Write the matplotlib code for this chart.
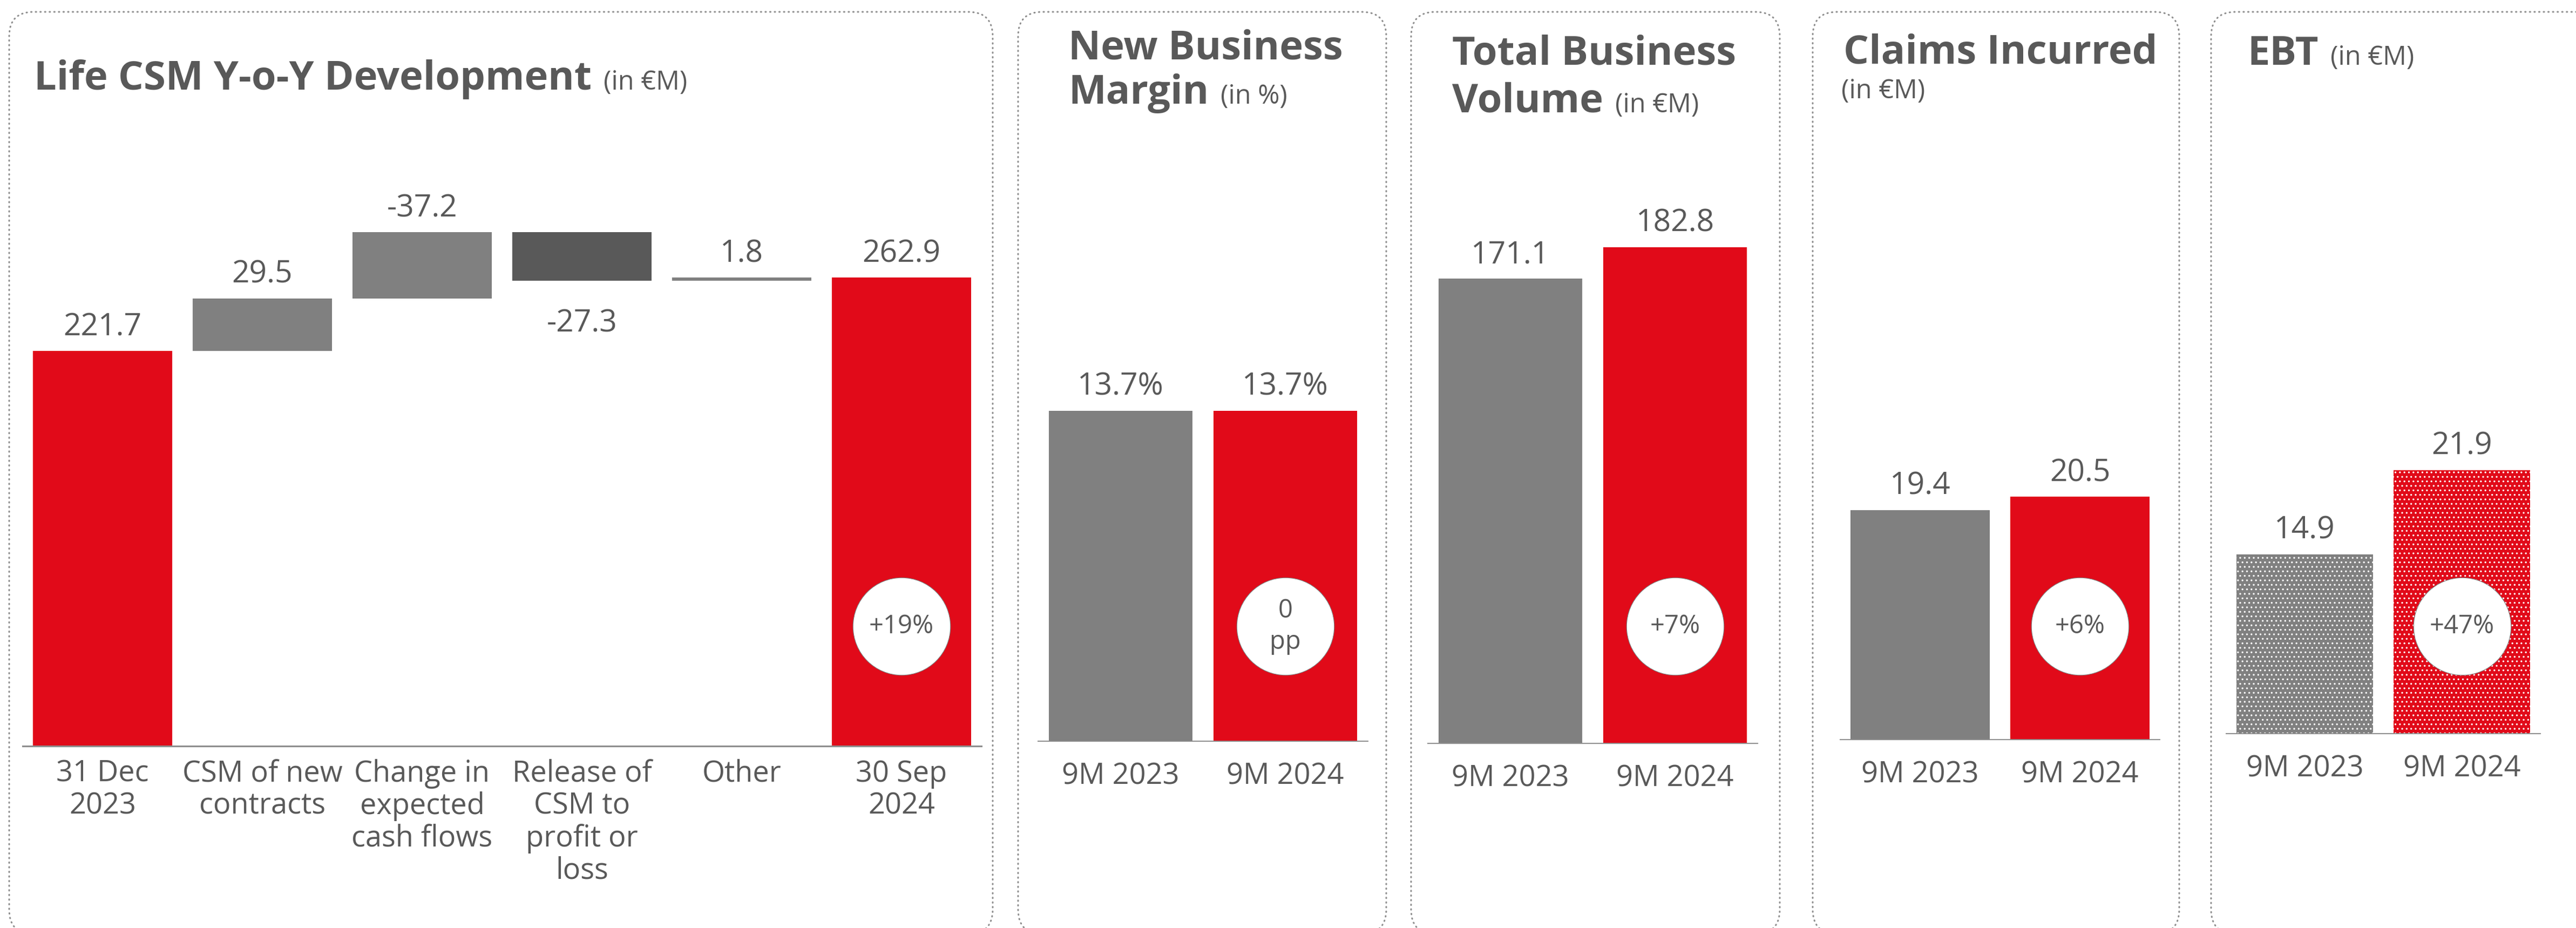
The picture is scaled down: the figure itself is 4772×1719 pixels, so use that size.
import matplotlib
matplotlib.use("Agg")
import matplotlib.pyplot as plt
from matplotlib.patches import FancyBboxPatch
from matplotlib.transforms import IdentityTransform, blended_transform_factory

RED = "#E10A19"
GRAY = "#808080"
DARK = "#595959"
TEXT = "#595959"
AXIS = "#8C8C8C"
BORDER = "#8F8F8F"

plt.rcParams["font.family"] = ["Open Sans", "DejaVu Sans"]

# Life CSM development (EUR M)
csm_start = 221.7
csm_moves = [29.5, 37.2, -27.3, 1.8]
csm_move_labels = ["29.5", "-37.2", "-27.3", "1.8"]
csm_end = 262.9
csm_categories = ["31 Dec\n2023", "CSM of new\ncontracts", "Change in\nexpected\ncash flows",
                  "Release of\nCSM to\nprofit or\nloss", "Other", "30 Sep\n2024"]
csm_move_colors = [GRAY, GRAY, DARK, GRAY]
csm_change = "+19%"

periods = ["9M 2023", "9M 2024"]
nbm = [13.7, 13.7]          # new business margin, %
tbv = [171.1, 182.8]        # total business volume, EUR M
claims = [19.4, 20.5]       # claims incurred, EUR M
ebt = [14.9, 21.9]          # earnings before taxes, EUR M
nbm_change = "0\npp"
tbv_change = "+7%"
claims_change = "+6%"
ebt_change = "+47%"

W, H = 4772, 1719
fig = plt.figure(figsize=(W / 100, H / 100), dpi=100)
fig.patch.set_facecolor("white")
renderer = fig.canvas.get_renderer()


def add_panel_axes(x0, x1, base, px_per_unit, top=300):
    ax = fig.add_axes([x0 / W, (H - base) / H, (x1 - x0) / W, (base - top) / H])
    ax.set_ylim(0, (base - top) / px_per_unit)
    ax.set_yticks([])
    for side in ["left", "right", "top"]:
        ax.spines[side].set_visible(False)
    ax.spines["bottom"].set_color(AXIS)
    ax.spines["bottom"].set_linewidth(1.4)
    ax.patch.set_alpha(0)
    return ax


def value_label(ax, x, y, text, dy=21):
    ax.annotate(text, (x, y), xytext=(0, dy), textcoords="offset points",
                ha="center", va="baseline", fontsize=41, color=TEXT)


def badge(ax, x, text):
    tr = blended_transform_factory(ax.transData, fig.transFigure)
    yf = (H - 1160) / H
    ax.plot([x], [yf], transform=tr, marker="o", ms=130, mfc="white", mec="#7A7A7A",
            mew=0.8, clip_on=False, zorder=5)
    ax.text(x, yf, text, transform=tr, ha="center", va="center", fontsize=34,
            color=TEXT, zorder=6, linespacing=1.28)


def panel_box(x0, x1, y0=22, y1=1730):
    box = FancyBboxPatch((x0, H - y1), x1 - x0, y1 - y0,
                         boxstyle="round,pad=0,rounding_size=45",
                         transform=IdentityTransform(), fill=False,
                         edgecolor=BORDER, linewidth=2.2,
                         linestyle=(0, (0.4, 2.4)), capstyle="round")
    fig.add_artist(box)


def title(x, y, bold, unit=None, unit_xy=None):
    t = fig.text(x / W, 1 - y / H, bold, fontsize=53.3, fontweight="bold",
                 color=TEXT, va="baseline")
    if unit is None:
        return
    if unit_xy is None:
        bb = t.get_window_extent(renderer)
        fig.text((bb.x1 + 22) / W, 1 - y / H, unit, fontsize=35, color=TEXT, va="baseline")
    else:
        fig.text(unit_xy[0] / W, 1 - unit_xy[1] / H, unit, fontsize=35, color=TEXT, va="baseline")


# dotted panel frames
panel_box(17, 1839)
panel_box(1886, 2568)
panel_box(2614, 3297)
panel_box(3358, 4037)
panel_box(4096, 4830)

# --- Life CSM waterfall ---
ax = add_panel_axes(42, 1818, 1382, 3.30)
ax.spines["bottom"].set_linewidth(2.2)
ax.set_xlim(-0.5, 5.5)
bottoms, heights = [0], [csm_start]
running = csm_start
for m in csm_moves:
    bottoms.append(running if m >= 0 else running + m)
    heights.append(abs(m))
    running += m
bottoms.append(0)
heights.append(csm_end)
ax.bar(range(6), heights, bottom=bottoms, width=0.87,
       color=[RED] + csm_move_colors + [RED], linewidth=0)
value_label(ax, 0, csm_start, f"{csm_start:.1f}")
for i, (m, lab) in enumerate(zip(csm_moves, csm_move_labels), start=1):
    if m >= 0:
        value_label(ax, i, bottoms[i] + heights[i], lab)
    else:
        value_label(ax, i, bottoms[i], lab, dy=-68)
value_label(ax, 5, csm_end, f"{csm_end:.1f}")
ax.set_xticks(range(6), csm_categories)
ax.tick_params(axis="x", length=0, pad=17, labelsize=39, labelcolor=TEXT)
for lab in ax.get_xticklabels():
    lab.set_linespacing(1.12)
badge(ax, 5, csm_change)
title(63, 166, "Life CSM Y-o-Y Development", "(in €M)")


def two_bar_panel(x0, x1, base, px_per_unit, values, fmt, change, hatch=None):
    ax = add_panel_axes(x0, x1, base, px_per_unit)
    ax.set_xlim(-0.5, 1.5)
    ax.bar([0, 1], values, width=0.87, color=[GRAY, RED], linewidth=0,
           hatch=hatch, edgecolor="white" if hatch else None)
    for i, v in enumerate(values):
        value_label(ax, i, v, fmt.format(v))
    ax.set_xticks([0, 1], periods)
    ax.tick_params(axis="x", length=0, pad=27, labelsize=39, labelcolor=TEXT)
    badge(ax, 1, change)
    return ax


two_bar_panel(1923, 2534, 1373, 44.7, nbm, "{:.1f}%", nbm_change)
title(1979, 110, "New Business")
title(1979, 192, "Margin", "(in %)")

two_bar_panel(2645, 3256, 1377, 5.03, tbv, "{:.1f}", tbv_change)
title(2690, 120, "Total Business")
title(2690, 208, "Volume", "(in €M)")

two_bar_panel(3409, 4001, 1370, 21.93, claims, "{:.1f}", claims_change)
title(3415, 118, "Claims Incurred", "(in €M)", unit_xy=(3411, 182))

plt.rcParams["hatch.linewidth"] = 1.2
two_bar_panel(4124, 4706, 1359, 22.3, ebt, "{:.1f}", ebt_change, hatch="..")
title(4163, 120, "EBT", "(in €M)")

fig.savefig("out.png", dpi=100, facecolor="white")
